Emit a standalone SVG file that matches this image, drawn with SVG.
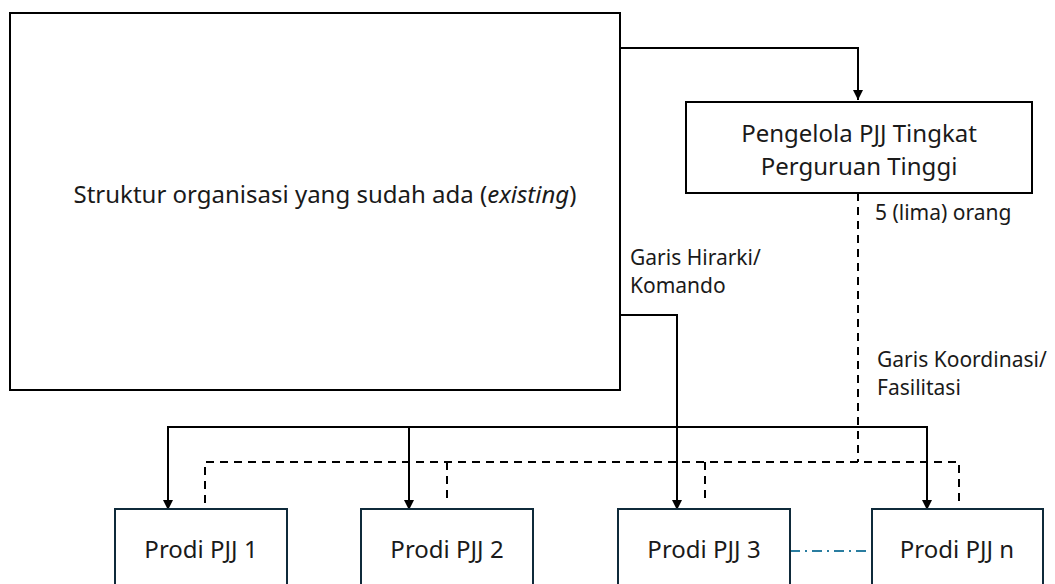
<svg xmlns="http://www.w3.org/2000/svg" width="1055" height="584" viewBox="0 0 1055 584">
<defs>
<style>
.box{fill:#fff;stroke:#000;stroke-width:2}
.prodi{fill:#fff;stroke:#0f2a3a;stroke-width:2}
.t{font-family:"Noto Sans","Liberation Sans",sans-serif;fill:#1a1a1a;text-anchor:middle}
.lbl{font-family:"Noto Sans","Liberation Sans",sans-serif;fill:#1a1a1a;font-size:21px}
.solid{fill:none;stroke:#000;stroke-width:2}
.dash{fill:none;stroke:#000;stroke-width:2;stroke-dasharray:8 6}
.dd{fill:none;stroke:#2a7da0;stroke-width:2;stroke-dasharray:10 5 2 5}
</style>
<marker id="arr" viewBox="0 0 10 10" refX="10" refY="5" markerWidth="5" markerHeight="5" orient="auto" markerUnits="strokeWidth">
<path d="M0,0 L10,5 L0,10 z" fill="#000"/>
</marker>
</defs>
<rect width="1055" height="584" fill="#fff"/>
<g id="connectors">
<path class="solid" d="M620,48 H858 V100" marker-end="url(#arr)"/>
<path class="solid" d="M620,315 H677 V510" marker-end="url(#arr)"/>
<path class="solid" d="M168,510 V427 H927 V510" marker-end="url(#arr)"/>
<path class="solid" d="M409,427 V510" marker-end="url(#arr)"/>
<path class="solid" d="M168,427 V510" marker-end="url(#arr)"/>
<path class="dash" d="M858,193 V462"/>
<path class="dash" d="M205,503 V462 H959 V503"/>
<path class="dash" d="M447,462 V503"/>
<path class="dash" d="M705,462 V503"/>
<path class="dd" d="M790,551 H872"/>
</g>
<g id="existing">
<rect class="box" x="10" y="13" width="610" height="377"/>
<text class="t" x="325" y="203" font-size="24">Struktur organisasi yang sudah ada (<tspan font-style="italic">existing</tspan>)</text>
</g>
<g id="pengelola">
<rect class="box" x="686" y="102" width="346" height="91"/>
<text class="t" x="859" y="142" font-size="24">Pengelola PJJ Tingkat</text>
<text class="t" x="859" y="175" font-size="24">Perguruan Tinggi</text>
</g>
<g id="labels">
<text class="lbl" x="875" y="220">5 (lima) orang</text>
<text class="lbl" x="630" y="265">Garis Hirarki/</text>
<text class="lbl" x="630" y="293">Komando</text>
<text class="lbl" x="877" y="367">Garis Koordinasi/</text>
<text class="lbl" x="877" y="395">Fasilitasi</text>
</g>
<g id="prodi1">
<rect class="prodi" x="115" y="509" width="172" height="100"/>
<text class="t" x="201" y="558" font-size="24">Prodi PJJ 1</text>
</g>
<g id="prodi2">
<rect class="prodi" x="361" y="509" width="172" height="100"/>
<text class="t" x="447" y="558" font-size="24">Prodi PJJ 2</text>
</g>
<g id="prodi3">
<rect class="prodi" x="618" y="509" width="172" height="100"/>
<text class="t" x="704" y="558" font-size="24">Prodi PJJ 3</text>
</g>
<g id="prodin">
<rect class="prodi" x="872" y="509" width="171" height="100"/>
<text class="t" x="957" y="558" font-size="24">Prodi PJJ n</text>
</g>
</svg>
